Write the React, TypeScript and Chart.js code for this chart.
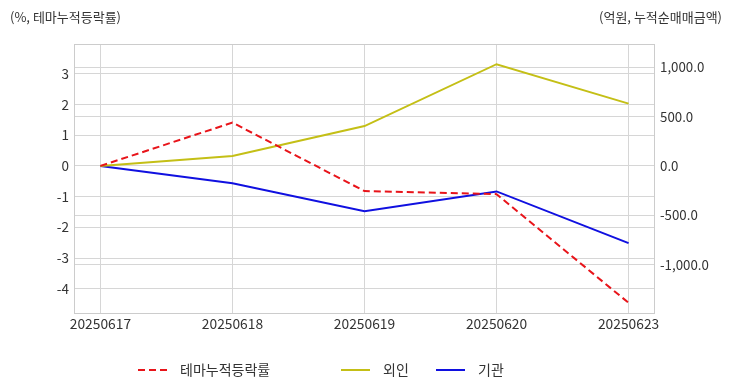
import React, { useEffect, useRef } from "react";
import { Chart, registerables } from "chart.js";

Chart.register(...registerables);

const categories = ["20250617", "20250618", "20250619", "20250620", "20250623"];
const themeRate = [0, 1.41, -0.82, -0.92, -4.46];
const foreign = [0, 102, 405, 1032, 632];
const institution = [0, -175, -460, -258, -782];
const leftTicks = [3, 2, 1, 0, -1, -2, -3, -4];
const rightTicks = [1000, 500, 0, -500, -1000];

const FONT = '"Noto Sans CJK KR", "Noto Sans", sans-serif';
const TEXT = "#333333";
const GRID = "#d6d6d6";

const boxPlugin = {
  id: "boxAndTitles",
  afterDraw(chart: any) {
    const { ctx, chartArea } = chart;
    ctx.save();
    ctx.strokeStyle = "#cccccc";
    ctx.lineWidth = 1;
    ctx.strokeRect(
      Math.round(chartArea.left) + 0.5,
      Math.round(chartArea.top) + 0.5,
      Math.round(chartArea.right - chartArea.left) - 1,
      Math.round(chartArea.bottom - chartArea.top)
    );
    ctx.fillStyle = TEXT;
    ctx.font = `13px ${FONT}`;
    ctx.textBaseline = "middle";
    ctx.textAlign = "left";
    ctx.fillText("(%, 테마누적등락률)", 2, 9);
    ctx.textAlign = "right";
    ctx.fillText("(억원, 누적순매매금액)", chart.width - 2, 9);

    // legend
    const positions = [130, 333, 428];
    const y = 362;
    ctx.font = `14px ${FONT}`;
    ctx.textAlign = "left";
    chart.data.datasets.forEach((ds: any, i: number) => {
      const x = positions[i];
      ctx.beginPath();
      ctx.strokeStyle = ds.borderColor;
      ctx.lineWidth = 2;
      ctx.setLineDash(ds.borderDash || []);
      ctx.moveTo(x, y);
      ctx.lineTo(x + 29, y);
      ctx.stroke();
      ctx.setLineDash([]);
      ctx.fillStyle = TEXT;
      ctx.fillText(ds.label, x + 42, y);
    });
    ctx.restore();
  },
};

export default function App() {
  const ref = useRef<HTMLCanvasElement>(null);
  useEffect(() => {
    if (!ref.current) return;
    const chart = new Chart(ref.current, {
      type: "line",
      data: {
        datasets: [
          {
            label: "테마누적등락률",
            data: themeRate.map((v, i) => ({ x: i, y: v })),
            borderColor: "#e8141a",
            borderDash: [7, 4],
            borderWidth: 2,
            pointRadius: 0,
            yAxisID: "y",
          },
          {
            label: "외인",
            data: foreign.map((v, i) => ({ x: i, y: v })),
            borderColor: "#c4bf16",
            borderWidth: 2,
            pointRadius: 0,
            yAxisID: "y1",
          },
          {
            label: "기관",
            data: institution.map((v, i) => ({ x: i, y: v })),
            borderColor: "#1010e0",
            borderWidth: 2,
            pointRadius: 0,
            yAxisID: "y1",
          },
        ],
      },
      options: {
        animation: false,
        responsive: true,
        maintainAspectRatio: false,
        layout: { padding: { top: 36, bottom: 0, left: 0, right: 0 } },
        plugins: {
          legend: { display: false },
          tooltip: { enabled: false },
        },
        scales: {
          x: {
            type: "linear",
            min: -0.2,
            max: 4.2,
            afterBuildTicks: (axis: any) => {
              axis.ticks = categories.map((_, i) => ({ value: i }));
            },
            afterFit: (axis: any) => {
              axis.height = 71;
            },
            ticks: {
              callback: (v: any) => categories[v] ?? "",
              color: TEXT,
              font: { family: FONT, size: 13.8 },
              padding: 2,
              maxRotation: 0,
              autoSkip: false,
            },
            grid: { color: GRID, drawTicks: false },
            border: { display: false },
          },
          y: {
            position: "left",
            min: -4.79,
            max: 3.97,
            afterBuildTicks: (axis: any) => {
              axis.ticks = leftTicks.map((v) => ({ value: v }));
            },
            afterFit: (axis: any) => {
              axis.width = 66;
            },
            ticks: {
              color: TEXT,
              font: { family: FONT, size: 13.5 },
              padding: 5,
              callback: (v: any) => String(v),
            },
            grid: { color: GRID, drawTicks: false },
            border: { display: false },
          },
          y1: {
            position: "right",
            min: -1491,
            max: 1237,
            afterBuildTicks: (axis: any) => {
              axis.ticks = rightTicks.map((v) => ({ value: v }));
            },
            afterFit: (axis: any) => {
              axis.width = 69;
            },
            ticks: {
              color: TEXT,
              font: { family: FONT, size: 13.3 },
              padding: 5,
              callback: (v: any) =>
                Number(v).toLocaleString("en-US", {
                  minimumFractionDigits: 1,
                  maximumFractionDigits: 1,
                }),
            },
            grid: { color: GRID, drawTicks: false },
            border: { display: false },
          },
        },
      },
      plugins: [boxPlugin],
    });
    return () => chart.destroy();
  }, []);
  return (
    <div style={{ width: 716, height: 376, position: "relative" }}>
      <canvas ref={ref} />
    </div>
  );
}
